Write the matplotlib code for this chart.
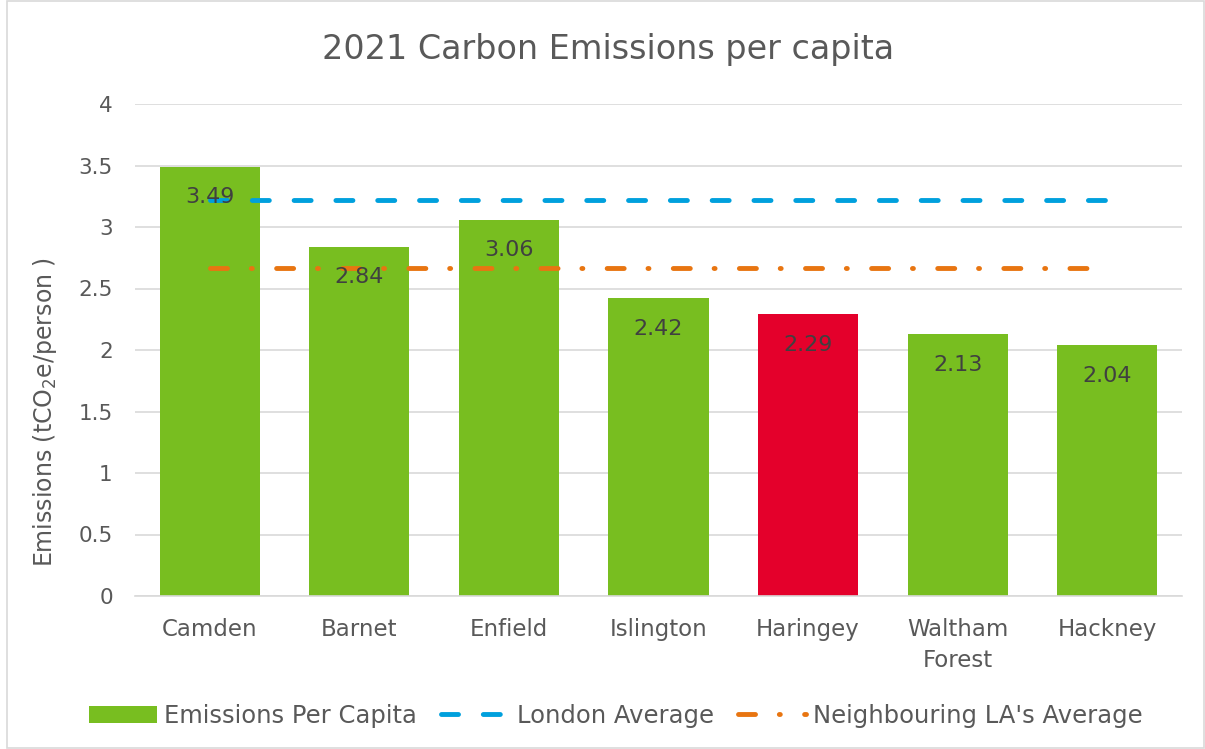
import matplotlib
matplotlib.use("Agg")
import matplotlib.pyplot as plt
from matplotlib.patches import Rectangle

boroughs = ["Camden", "Barnet", "Enfield", "Islington", "Haringey", "Waltham\nForest", "Hackney"]
per_capita = [3.49, 2.84, 3.06, 2.42, 2.29, 2.13, 2.04]
london_avg = 3.22
neighbour_avg = 2.67
highlight = "Haringey"

GREEN = "#78be20"
RED = "#e4002b"
BLUE = "#00a0dd"
ORANGE = "#e87511"
TXT = "#595959"

plt.rcParams["font.family"] = ["DejaVu Sans"]
plt.rcParams["mathtext.fontset"] = "dejavusans"

fig = plt.figure(figsize=(12.05, 7.49), dpi=100)
ax = fig.add_axes([135 / 1205, 1 - 596 / 749, 1047 / 1205, 492 / 749])

x = list(range(len(boroughs)))
colors = [RED if b == highlight else GREEN for b in boroughs]
bars = ax.bar(x, per_capita, width=0.67, color=colors, zorder=2)

for xi, v in zip(x, per_capita):
    ax.annotate(f"{v:.2f}", (xi, v), xytext=(0, -22), textcoords="offset points",
                ha="center", va="center", fontsize=16, color="#404040", zorder=4)

# averages run from first to last category centre, like the excel series
xs = [x[0], x[-1]]
ax.plot(xs, [london_avg] * 2, color=BLUE, lw=3.5, dashes=(3.5, 5.1),
        dash_capstyle="round", zorder=3, label="London Average")
ax.plot(xs, [neighbour_avg] * 2, color=ORANGE, lw=3.5, dashes=(3.5, 4.9, 0.2, 5.0),
        dash_capstyle="round", zorder=3, label="Neighbouring LA's Average")

ax.set_xlim(-0.5, len(boroughs) - 0.5)
ax.set_ylim(0, 4)
ax.set_yticks([0, 0.5, 1, 1.5, 2, 2.5, 3, 3.5, 4])
ax.set_yticklabels(["0", "0.5", "1", "1.5", "2", "2.5", "3", "3.5", "4"])
ax.set_xticks(x)
ax.set_xticklabels(boroughs, linespacing=1.45)
ax.tick_params(axis="both", length=0, colors=TXT)
ax.tick_params(axis="y", pad=16, labelsize=15.5)
ax.tick_params(axis="x", pad=16, labelsize=16.5)
ax.yaxis.grid(True, color="#d9d9d9", lw=1.2, zorder=0)
ax.set_axisbelow(True)
for s in ["top", "right", "left"]:
    ax.spines[s].set_visible(False)
ax.spines["bottom"].set_color("#d9d9d9")
ax.spines["bottom"].set_linewidth(1.2)

ax.set_ylabel(r"Emissions (tCO$_{2}$e/person )", fontsize=17, color=TXT)
ax.yaxis.set_label_coords(-76 / 1047, (596 - 412) / 492)

fig.text(0.505, 1 - 50 / 749, "2021 Carbon Emissions per capita", ha="center", va="center",
         fontsize=24, color=TXT)

handles, labels = ax.get_legend_handles_labels()
leg = fig.legend([bars] + handles, ["Emissions Per Capita"] + labels, loc="center",
                 bbox_to_anchor=(0.511, 1 - 716 / 749), ncol=3, frameon=False,
                 fontsize=17.5, handlelength=2.8, handletextpad=0.3, columnspacing=1.0)
for t in leg.get_texts():
    t.set_color(TXT)

fig.patches.append(Rectangle((7 / 1205, 0.002), 1 - 8 / 1205, 0.996, transform=fig.transFigure,
                             fill=False, edgecolor="#d9d9d9", lw=1.2))

fig.savefig("out.png", dpi=100)
